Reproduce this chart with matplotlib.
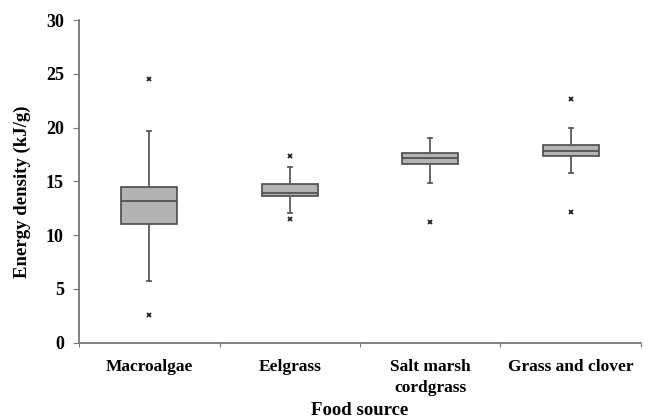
import matplotlib.pyplot as plt

# energy density of food sources, kJ/g
sources = ["Macroalgae", "Eelgrass", "Salt marsh\ncordgrass", "Grass and clover"]
whislo = [5.7, 12.1, 14.9, 15.8]
q1 = [11.0, 13.65, 16.6, 17.35]
med = [13.2, 13.95, 17.15, 17.85]
q3 = [14.5, 14.75, 17.65, 18.35]
whishi = [19.7, 16.35, 19.05, 20.0]
fliers = [[24.5, 2.6], [17.4, 11.55], [11.2], [22.7, 12.15]]

plt.rcParams['font.family'] = ['Liberation Serif', 'DejaVu Serif']
plt.rcParams['font.weight'] = 'bold'

fig = plt.figure(figsize=(6.48, 4.19), dpi=100)
ax = fig.add_axes([0.122, 0.182, 0.867, 0.770])

stats = []
for i in range(len(sources)):
    stats.append(dict(whislo=whislo[i], q1=q1[i], med=med[i], q3=q3[i],
                      whishi=whishi[i], fliers=fliers[i]))

edge = '#4a4a4a'
ax.bxp(stats, positions=range(1, 5), widths=0.4, patch_artist=True,
       boxprops=dict(facecolor='#b3b3b3', edgecolor=edge, linewidth=1.2),
       medianprops=dict(color=edge, linewidth=1.2),
       whiskerprops=dict(color='#5a5a5a', linewidth=1.3),
       capprops=dict(color='#5a5a5a', linewidth=1.3),
       capwidths=0.03,
       flierprops=dict(marker='x', markersize=3.5, markeredgecolor='#222222',
                       markeredgewidth=1.3))

ax.set_xlim(0.5, 4.5)
ax.set_ylim(0, 30)
ax.set_yticks(range(0, 31, 5))

# category labels sit between boundary ticks
ax.set_xticks([0.5, 1.5, 2.5, 3.5, 4.5])
ax.set_xticklabels([])
ax.set_xticks(range(1, 5), minor=True)
ax.set_xticklabels(sources, minor=True, fontsize=12.5, fontweight='bold',
                   linespacing=1.35)
ax.tick_params(axis='x', which='minor', length=0, pad=12)
ax.tick_params(axis='x', which='major', length=3, color='#777777')
ax.tick_params(axis='y', labelsize=13, length=4, color='#777777', pad=7)

for s in ['top', 'right']:
    ax.spines[s].set_visible(False)
for s in ['left', 'bottom']:
    ax.spines[s].set_color('#777777')
    ax.spines[s].set_linewidth(1.3)

ax.set_ylabel('Energy density (kJ/g)', fontsize=13.5, fontweight='bold')
ax.yaxis.set_label_coords(-0.086, 0.467)
ax.set_xlabel('Food source', fontsize=13.5, fontweight='bold')
ax.xaxis.set_label_coords(0.5, -0.183)

fig.savefig('out.png', dpi=100)
